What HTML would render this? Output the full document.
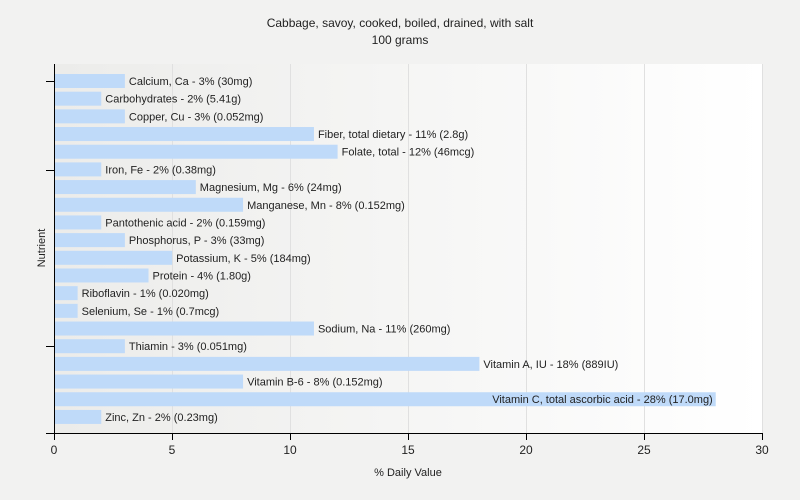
<!DOCTYPE html>
<html><head><style>
body{margin:0;background:#f2f2f1;}
svg{display:block;font-family:"Liberation Sans",Arial,sans-serif;}
</style></head><body>
<svg width="800" height="500" xmlns="http://www.w3.org/2000/svg">
<defs><linearGradient id="g" x1="0" x2="1" y1="0" y2="0"><stop offset="0" stop-color="#ececea"/><stop offset="1" stop-color="#ffffff"/></linearGradient></defs>
<rect width="800" height="500" fill="#f2f2f1"/>
<rect x="54" y="64" width="709" height="369" fill="url(#g)"/>
<g stroke="#e0e0e0" stroke-width="1">
<line x1="172.5" y1="64" x2="172.5" y2="433"/><line x1="290.5" y1="64" x2="290.5" y2="433"/><line x1="408.5" y1="64" x2="408.5" y2="433"/><line x1="526.5" y1="64" x2="526.5" y2="433"/><line x1="644.5" y1="64" x2="644.5" y2="433"/><line x1="762.5" y1="64" x2="762.5" y2="433"/>
</g>
<text x="400" y="27" font-size="12" text-anchor="middle" fill="#222">Cabbage, savoy, cooked, boiled, drained, with salt</text>
<text x="400" y="44" font-size="12" text-anchor="middle" fill="#222">100 grams</text>
<g fill="#bfdaf9" id="bars"></g>
<g font-size="11" fill="#222" id="labels"></g>
<g stroke="#000" stroke-width="1">
<line x1="54.5" y1="64" x2="54.5" y2="434"/><line x1="46" y1="433.5" x2="763" y2="433.5"/>
<line x1="46" y1="81.5" x2="54" y2="81.5"/><line x1="46" y1="170.5" x2="54" y2="170.5"/><line x1="46" y1="346.5" x2="54" y2="346.5"/>
<line x1="54.5" y1="433" x2="54.5" y2="440"/><line x1="172.5" y1="433" x2="172.5" y2="440"/><line x1="290.5" y1="433" x2="290.5" y2="440"/><line x1="408.5" y1="433" x2="408.5" y2="440"/><line x1="526.5" y1="433" x2="526.5" y2="440"/><line x1="644.5" y1="433" x2="644.5" y2="440"/><line x1="762.5" y1="433" x2="762.5" y2="440"/>
</g>
<g font-size="12" text-anchor="middle" fill="#222">
<text x="54" y="454">0</text><text x="172" y="454">5</text><text x="290" y="454">10</text><text x="408" y="454">15</text><text x="526" y="454">20</text><text x="644" y="454">25</text><text x="762" y="454">30</text>
</g>
<text x="408" y="476" font-size="11" text-anchor="middle" fill="#222">% Daily Value</text>
<text x="45" y="248" font-size="11" text-anchor="middle" fill="#222" transform="rotate(-90 45 248)">Nutrient</text>
<script>
var d=[["Calcium, Ca - 3% (30mg)",3],["Carbohydrates - 2% (5.41g)",2],["Copper, Cu - 3% (0.052mg)",3],["Fiber, total dietary - 11% (2.8g)",11],["Folate, total - 12% (46mcg)",12],["Iron, Fe - 2% (0.38mg)",2],["Magnesium, Mg - 6% (24mg)",6],["Manganese, Mn - 8% (0.152mg)",8],["Pantothenic acid - 2% (0.159mg)",2],["Phosphorus, P - 3% (33mg)",3],["Potassium, K - 5% (184mg)",5],["Protein - 4% (1.80g)",4],["Riboflavin - 1% (0.020mg)",1],["Selenium, Se - 1% (0.7mcg)",1],["Sodium, Na - 11% (260mg)",11],["Thiamin - 3% (0.051mg)",3],["Vitamin A, IU - 18% (889IU)",18],["Vitamin B-6 - 8% (0.152mg)",8],["Vitamin C, total ascorbic acid - 28% (17.0mg)",28],["Zinc, Zn - 2% (0.23mg)",2]];
var ns="http://www.w3.org/2000/svg",b=document.getElementById("bars"),l=document.getElementById("labels");
d.forEach(function(e,i){var y=74+i*17.68,w=e[1]*709/30;
var r=document.createElementNS(ns,"rect");r.setAttribute("x",55);r.setAttribute("y",y);r.setAttribute("width",w-1);r.setAttribute("height",14);b.appendChild(r);
var t=document.createElementNS(ns,"text");
if(e[1]>20){t.setAttribute("x",54+w-3);t.setAttribute("text-anchor","end");}else{t.setAttribute("x",54+w+4);}
t.setAttribute("y",y+11);t.textContent=e[0];l.appendChild(t);});
</script>
</svg>
</body></html>
